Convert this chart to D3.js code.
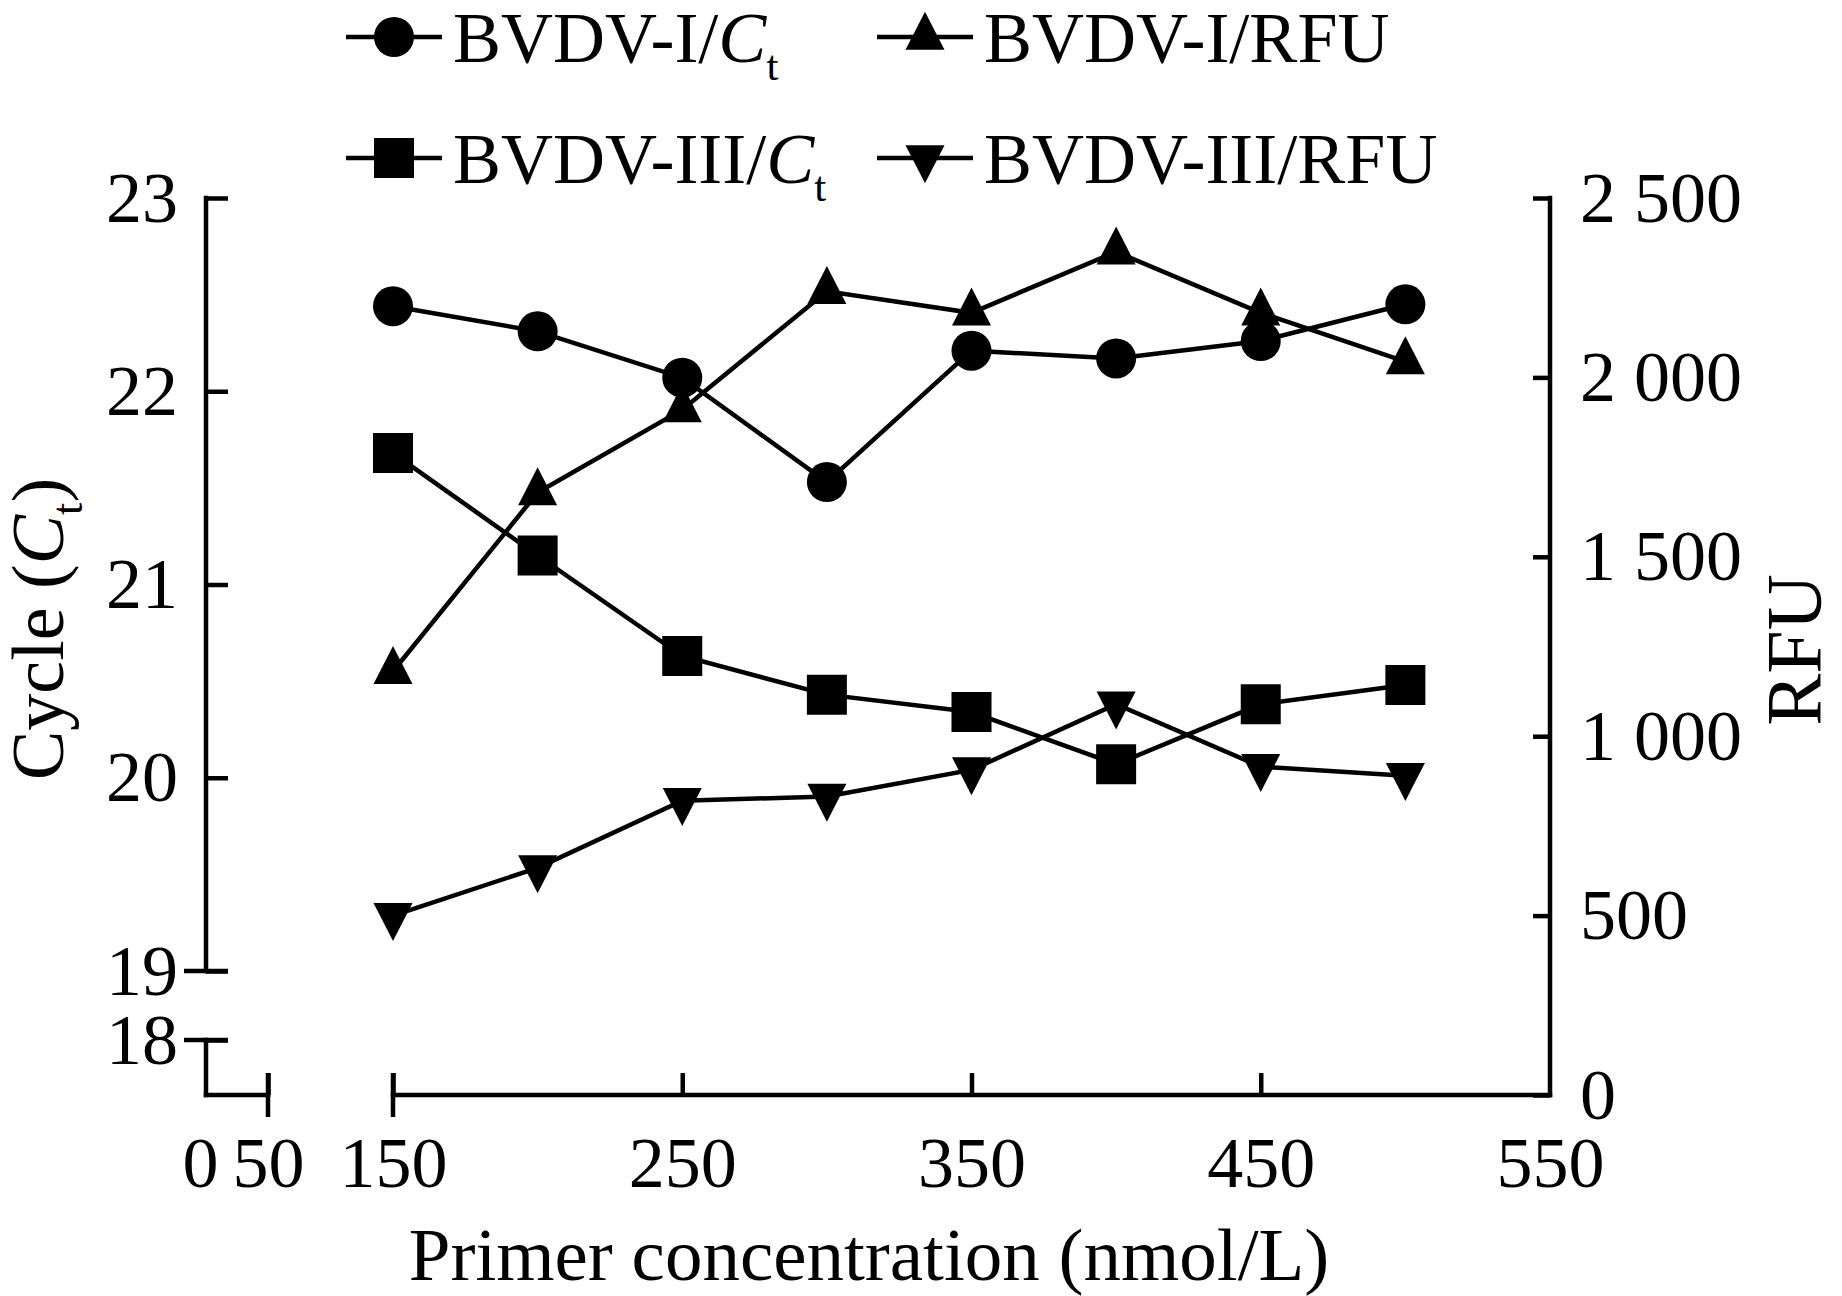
<!DOCTYPE html>
<html>
<head>
<meta charset="utf-8">
<script src="https://cdn.jsdelivr.net/npm/d3@7"></script>
<style>
  body { margin: 0; background: #fff; }
  svg { display: block; font-family: "Liberation Serif", "Times New Roman", serif; }
</style>
</head>
<body>
<div id="chart-area"></div>
<script>
// data
var concentration = [150, 200, 250, 300, 350, 400, 450, 500];
var bvdv1Ct  = [22.44, 22.31, 22.07, 21.53, 22.21, 22.17, 22.26, 22.45];
var bvdv1Rfu = [1181, 1679, 1910, 2240, 2180, 2350, 2180, 2044];
var bvdv3Ct  = [21.68, 21.15, 20.63, 20.43, 20.34, 20.07, 20.38, 20.48];
var bvdv3Rfu = [500, 633, 820, 832, 906, 1089, 915, 890];

var xTicks = [0, 50, 150, 250, 350, 450, 550];
var ctTicks = [18, 19, 20, 21, 22, 23];
var rfuTicks = [0, 500, 1000, 1500, 2000, 2500];
var rfuTickLabels = ["0", "500", "1 000", "1 500", "2 000", "2 500"];

var width = 1842, height = 1296;
var stroke = 4.5;
var tickFont = 72;

var svg = d3.select("#chart-area").append("svg")
    .attr("width", width)
    .attr("height", height);

// broken axes: piecewise scales
var x = d3.scaleLinear().domain([0, 50, 150, 550]).range([206, 268, 393, 1550]);
var yCt = d3.scaleLinear().domain([17.2, 18, 19, 23]).range([1095, 1040, 971, 198]);
var yRfu = d3.scaleLinear().domain([0, 2500]).range([1095, 198]);

var x0 = x(0), x1 = x(550), yBottom = yCt(17.2);

// triangle markers (a bit taller than equilateral)
var triUp = {
    draw: function(ctx){
        var w = 39, h = 38;
        ctx.moveTo(0, -2 * h / 3);
        ctx.lineTo(w / 2, h / 3);
        ctx.lineTo(-w / 2, h / 3);
        ctx.closePath();
    }
};
var triDown = {
    draw: function(ctx){
        var w = 39, h = 38;
        ctx.moveTo(0, 2 * h / 3);
        ctx.lineTo(w / 2, -h / 3);
        ctx.lineTo(-w / 2, -h / 3);
        ctx.closePath();
    }
};

var series = [
    {name: "BVDV-I/", ct: true,  values: bvdv1Ct,  scale: yCt,  symbol: d3.symbol().type(d3.symbolCircle).size(Math.PI * 400)},
    {name: "BVDV-I/RFU", ct: false, values: bvdv1Rfu, scale: yRfu, symbol: d3.symbol().type(triUp)},
    {name: "BVDV-III/", ct: true,  values: bvdv3Ct,  scale: yCt,  symbol: d3.symbol().type(d3.symbolSquare).size(1600)},
    {name: "BVDV-III/RFU", ct: false, values: bvdv3Rfu, scale: yRfu, symbol: d3.symbol().type(triDown)}
];

function styleAxis(g){
    g.select(".domain").remove();
    g.selectAll("line").attr("stroke", "#000").attr("stroke-width", stroke);
    g.selectAll("text")
        .attr("font-family", "Liberation Serif, Times New Roman, serif")
        .attr("font-size", tickFont)
        .attr("fill", "#000");
}

// left axis
var leftAxis = svg.append("g")
    .attr("transform", "translate(" + x0 + ",0)")
    .call(d3.axisLeft(yCt).tickValues(ctTicks).tickSize(-22).tickPadding(28).tickFormat(d3.format("d")));
styleAxis(leftAxis);

// right axis
var rightAxis = svg.append("g")
    .attr("transform", "translate(" + x1 + ",0)")
    .call(d3.axisRight(yRfu).tickValues(rfuTicks).tickSize(-17).tickPadding(30)
        .tickFormat(function(d, i){ return rfuTickLabels[i]; }));
styleAxis(rightAxis);

// bottom axis
var bottomAxis = svg.append("g")
    .attr("transform", "translate(0," + yBottom + ")")
    .call(d3.axisBottom(x).tickValues(xTicks).tickSize(-22).tickPadding(41).tickFormat(d3.format("d")));
styleAxis(bottomAxis);
bottomAxis.selectAll(".tick").filter(function(d){ return d === 0 || d === 550; })
    .select("line").remove();
bottomAxis.selectAll(".tick").filter(function(d){ return d === 0; })
    .select("text").attr("x", -6);

// axis lines with the breaks
var segs = svg.append("g").attr("stroke", "#000").attr("stroke-width", stroke).attr("stroke-linecap", "square");
[[23, 19], [18, 17.2]].forEach(function(s){
    segs.append("line").attr("x1", x0).attr("x2", x0).attr("y1", yCt(s[0])).attr("y2", yCt(s[1]));
});
[[0, 50], [150, 550]].forEach(function(s){
    segs.append("line").attr("x1", x(s[0])).attr("x2", x(s[1])).attr("y1", yBottom).attr("y2", yBottom);
});
segs.append("line").attr("x1", x1).attr("x2", x1).attr("y1", yRfu(2500)).attr("y2", yRfu(0));
// break marks cross the axis
[19, 18].forEach(function(v){
    segs.append("line").attr("stroke-linecap", "butt")
        .attr("x1", x0 - 22).attr("x2", x0 + 22).attr("y1", yCt(v)).attr("y2", yCt(v));
});
[50, 150].forEach(function(v){
    segs.append("line").attr("stroke-linecap", "butt")
        .attr("x1", x(v)).attr("x2", x(v)).attr("y1", yBottom - 22).attr("y2", yBottom + 22);
});

// lines and markers
series.forEach(function(s){
    var pts = concentration.map(function(c, i){ return [c, s.values[i]]; });
    var line = d3.line()
        .x(function(d){ return x(d[0]); })
        .y(function(d){ return s.scale(d[1]); });
    svg.append("path")
        .attr("d", line(pts))
        .attr("fill", "none")
        .attr("stroke", "#000")
        .attr("stroke-width", stroke);
    svg.append("g").selectAll("path").data(pts).enter()
        .append("path")
            .attr("d", s.symbol)
            .attr("transform", function(d){ return "translate(" + x(d[0]) + "," + s.scale(d[1]) + ")"; })
            .attr("fill", "#000");
});

// text helper for C with subscript t
function addCt(text, fontSize){
    text.append("tspan").attr("font-style", "italic").text("C");
    text.append("tspan").attr("font-size", fontSize * 0.6).attr("dy", fontSize * 0.25).text("t");
}

// legend
var legendCols = [346, 877];
var legendRows = [37, 158];
series.forEach(function(s, i){
    var lx = legendCols[i % 2], ly = legendRows[Math.floor(i / 2)];
    var g = svg.append("g").attr("transform", "translate(" + lx + "," + ly + ")");
    g.append("line").attr("x1", 0).attr("x2", 96).attr("y1", 0).attr("y2", 0)
        .attr("stroke", "#000").attr("stroke-width", stroke);
    g.append("path").attr("d", s.symbol()).attr("transform", "translate(48,0)").attr("fill", "#000");
    var t = g.append("text").attr("x", 107).attr("y", 25).attr("font-size", 72).attr("fill", "#000");
    t.append("tspan").text(s.name);
    if (s.ct) addCt(t, 72);
});

// axis titles
svg.append("text")
    .attr("x", 869)
    .attr("y", 1280)
    .attr("text-anchor", "middle")
    .attr("font-size", 75)
    .attr("fill", "#000")
    .text("Primer concentration (nmol/L)");

var yt = svg.append("text")
    .attr("transform", "translate(63,629) rotate(-90)")
    .attr("text-anchor", "middle")
    .attr("font-size", 74)
    .attr("fill", "#000");
yt.append("tspan").text("Cycle (");
addCt(yt, 74);
yt.append("tspan").attr("dy", -74 * 0.25).text(")");

svg.append("text")
    .attr("transform", "translate(1820,650) rotate(-90)")
    .attr("text-anchor", "middle")
    .attr("font-size", 78)
    .attr("fill", "#000")
    .text("RFU");
</script>
</body>
</html>
